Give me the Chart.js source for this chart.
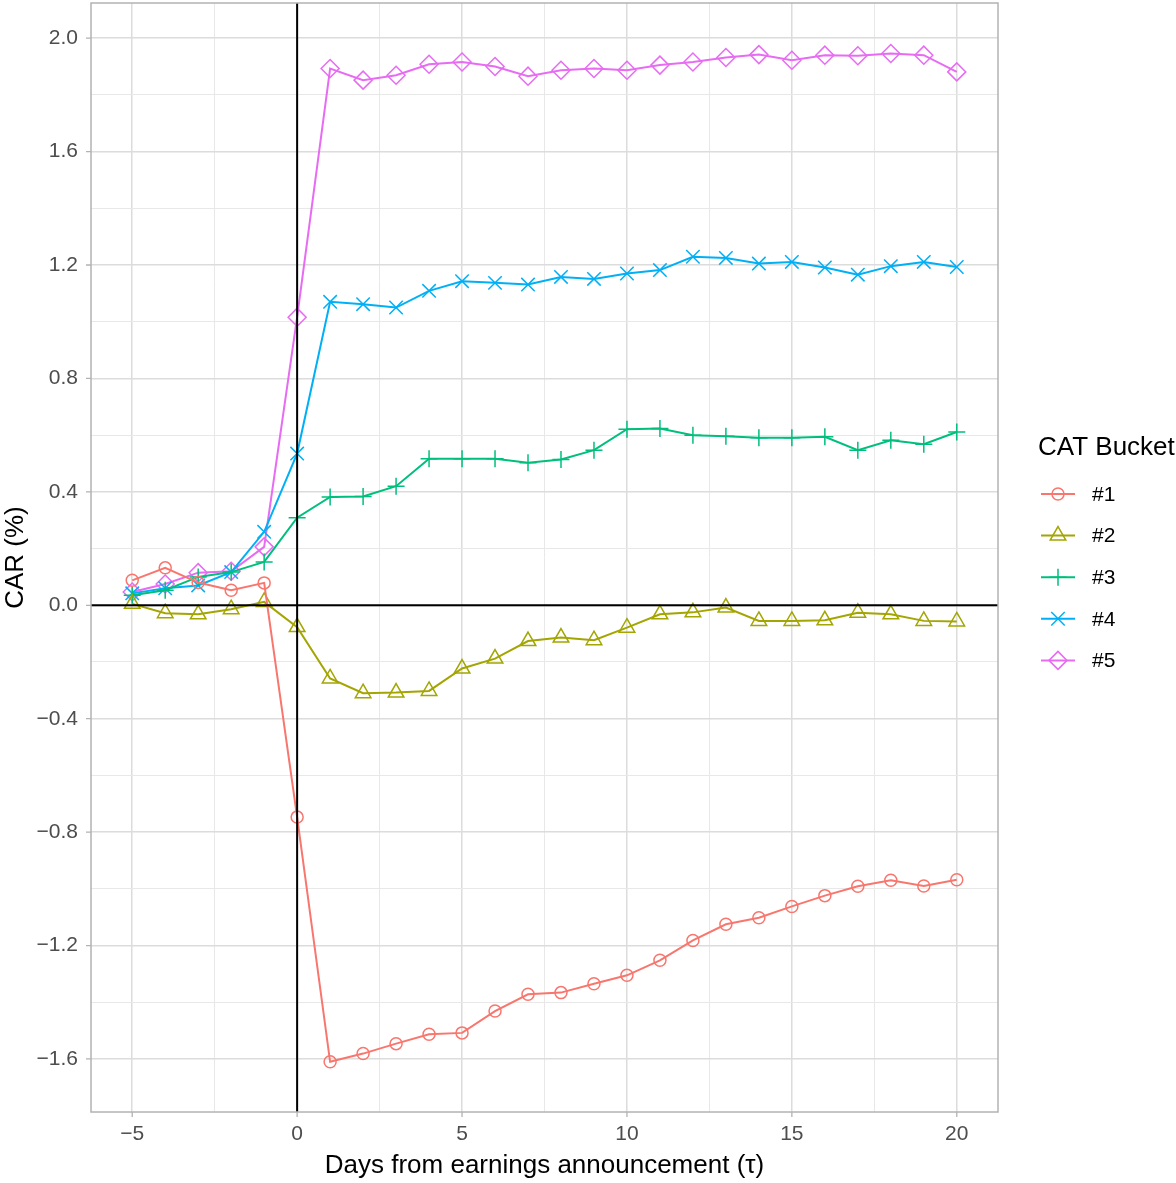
<!DOCTYPE html>
<html>
<head>
  <meta charset="UTF-8" />
  <title>CAR by CAT Bucket</title>
  <style>
    body { margin: 0; background: #fff; }
    #wrap { width: 1176px; height: 1183px; position: relative; }
  </style>
</head>
<body>
  <div id="wrap"><canvas id="carChart"></canvas></div>
  <script src="https://cdn.jsdelivr.net/npm/chart.js"></script>
  <script>
    // days relative to the earnings announcement
    const days = [-5, -4, -3, -2, -1, 0, 1, 2, 3, 4, 5, 6, 7, 8, 9, 10, 11, 12, 13, 14, 15, 16, 17, 18, 19, 20];

    // cumulative abnormal return (%) per CAT bucket
    const bucket1 = [0.088, 0.132, 0.080, 0.053, 0.079, -0.747, -1.610, -1.581, -1.546, -1.513, -1.508, -1.431, -1.372,
                     -1.366, -1.335, -1.305, -1.252, -1.182, -1.125, -1.102, -1.062, -1.024, -0.991, -0.970, -0.990, -0.968];
    const bucket2 = [0.005, -0.028, -0.032, -0.014, 0.012, -0.077, -0.258, -0.310, -0.308, -0.302, -0.223, -0.188, -0.126,
                     -0.114, -0.123, -0.079, -0.032, -0.025, -0.008, -0.055, -0.055, -0.053, -0.026, -0.032, -0.055, -0.057];
    const bucket3 = [0.035, 0.053, 0.100, 0.117, 0.153, 0.309, 0.382, 0.384, 0.420, 0.517, 0.517, 0.517, 0.503,
                     0.514, 0.547, 0.621, 0.623, 0.600, 0.596, 0.591, 0.591, 0.594, 0.547, 0.582, 0.568, 0.611];
    const bucket4 = [0.042, 0.060, 0.070, 0.117, 0.259, 0.535, 1.070, 1.062, 1.050, 1.109, 1.143, 1.137, 1.131,
                     1.158, 1.151, 1.170, 1.182, 1.229, 1.225, 1.205, 1.211, 1.191, 1.166, 1.196, 1.211, 1.193];
    const bucket5 = [0.047, 0.075, 0.115, 0.120, 0.206, 1.016, 1.893, 1.852, 1.869, 1.908, 1.916, 1.900, 1.866,
                     1.887, 1.893, 1.887, 1.905, 1.916, 1.932, 1.942, 1.922, 1.940, 1.938, 1.946, 1.940, 1.881];

    const bucketLabels = ['#1', '#2', '#3', '#4', '#5'];
    const legendTitle = 'CAT Bucket';

    // axis ticks (major ones get labels)
    const xMajor = [-5, 0, 5, 10, 15, 20];
    const xMinor = [-2.5, 2.5, 7.5, 12.5, 17.5];
    const yMajor = [-1.6, -1.2, -0.8, -0.4, 0, 0.4, 0.8, 1.2, 1.6, 2.0];
    const yMinor = [-1.4, -1.0, -0.6, -0.2, 0.2, 0.6, 1.0, 1.4, 1.8];

    const colors = ['#F8766D', '#A3A500', '#00BF7D', '#00B0F6', '#E76BF3'];
    const shapes = ['circle', 'triangle', 'cross', 'crossRot', 'rectRot'];
    const sizes = [6, 9, 8.5, 9.5, 9];
    const FONT = '"Liberation Sans", Arial, Helvetica, sans-serif';

    const allSeries = [bucket1, bucket2, bucket3, bucket4, bucket5];

    const isMajor = (list, v) => list.some(m => Math.abs(m - v) < 1e-6);
    const fmt = (s) => s.replace('-', '\u2212');

    const datasets = allSeries.map((vals, i) => ({
      label: bucketLabels[i],
      data: days.map((d, j) => ({ x: d, y: vals[j] })),
      borderColor: colors[i],
      backgroundColor: 'transparent',
      borderWidth: 2,
      tension: 0,
      pointStyle: shapes[i],
      pointRadius: sizes[i],
      pointBorderWidth: 1.5,
      pointBorderColor: colors[i],
      pointBackgroundColor: 'rgba(0,0,0,0)'
    }));

    // black reference lines at 0, grey panel border and short axis ticks
    const refLines = {
      id: 'refLines',
      afterDatasetsDraw(chart) {
        const { ctx, chartArea: a, scales } = chart;
        const x0 = scales.x.getPixelForValue(0);
        const y0 = scales.y.getPixelForValue(0);
        ctx.save();
        ctx.strokeStyle = '#000';
        ctx.lineWidth = 2;
        ctx.beginPath();
        ctx.moveTo(x0, a.top); ctx.lineTo(x0, a.bottom);
        ctx.moveTo(a.left, y0); ctx.lineTo(a.right, y0);
        ctx.stroke();
        ctx.strokeStyle = '#B3B3B3';
        ctx.lineWidth = 1.5;
        ctx.strokeRect(a.left, a.top, a.right - a.left, a.bottom - a.top);
        ctx.lineWidth = 1.3;
        ctx.beginPath();
        yMajor.forEach(v => {
          const y = scales.y.getPixelForValue(v);
          ctx.moveTo(a.left - 5, y); ctx.lineTo(a.left, y);
        });
        xMajor.forEach(v => {
          const x = scales.x.getPixelForValue(v);
          ctx.moveTo(x, a.bottom); ctx.lineTo(x, a.bottom + 5);
        });
        ctx.stroke();
        ctx.restore();
      }
    };

    // ggplot-style legend: title, line + marker keys
    const bucketLegend = {
      id: 'bucketLegend',
      afterDraw(chart) {
        const { ctx, chartArea: a } = chart;
        const left = a.right + 40;
        ctx.save();
        ctx.fillStyle = '#000';
        ctx.textBaseline = 'middle';
        ctx.textAlign = 'left';
        ctx.font = '26px ' + FONT;
        ctx.fillText(legendTitle, left, 448);
        chart.data.datasets.forEach((ds, i) => {
          const y = 494 + i * 41.6;
          ctx.strokeStyle = ds.borderColor;
          ctx.lineWidth = 2;
          ctx.beginPath();
          ctx.moveTo(left + 3, y); ctx.lineTo(left + 37, y);
          ctx.stroke();
          ctx.lineWidth = ds.pointBorderWidth;
          ctx.fillStyle = 'rgba(0,0,0,0)';
          Chart.helpers.drawPoint(ctx, { pointStyle: ds.pointStyle, radius: ds.pointRadius, borderWidth: ds.pointBorderWidth, rotation: 0 }, left + 20, y);
          ctx.fillStyle = '#000';
          ctx.font = '21px ' + FONT;
          ctx.fillText(ds.label, left + 54, y + 1);
        });
        ctx.restore();
      }
    };

    new Chart(document.getElementById('carChart'), {
      type: 'line',
      data: { datasets: datasets },
      plugins: [refLines, bucketLegend],
      options: {
        responsive: true,
        maintainAspectRatio: false,
        animation: false,
        layout: { autoPadding: false, padding: { left: 0, right: 178, top: 3, bottom: 0 } },
        plugins: { legend: { display: false }, tooltip: { enabled: false } },
        scales: {
          x: {
            type: 'linear',
            min: -6.25,
            max: 21.25,
            afterBuildTicks: (s) => { s.ticks = xMajor.concat(xMinor).sort((p, q) => p - q).map(v => ({ value: v })); },
            afterFit: (s) => { s.height = 71; },
            border: { display: false },
            grid: {
              color: (c) => isMajor(xMajor, c.tick.value) ? '#DCDCDC' : '#E8E8E8',
              lineWidth: (c) => isMajor(xMajor, c.tick.value) ? 1.5 : 1,
              tickColor: 'rgba(0,0,0,0)',
              tickLength: 10
            },
            ticks: {
              padding: 0,
              color: '#4D4D4D',
              font: { family: FONT, size: 21 },
              maxRotation: 0,
              autoSkip: false,
              callback: (v) => isMajor(xMajor, v) ? fmt(String(v)) : ''
            },
            title: {
              display: true,
              text: 'Days from earnings announcement (\u03C4)',
              color: '#000',
              font: { family: FONT, size: 26 },
              padding: { top: 0, bottom: 2 }
            }
          },
          y: {
            type: 'linear',
            min: -1.787,
            max: 2.124,
            afterBuildTicks: (s) => { s.ticks = yMajor.concat(yMinor).sort((p, q) => p - q).map(v => ({ value: v })); },
            afterFit: (s) => { s.width = 91; },
            border: { display: false },
            grid: {
              color: (c) => isMajor(yMajor, c.tick.value) ? '#DCDCDC' : '#E8E8E8',
              lineWidth: (c) => isMajor(yMajor, c.tick.value) ? 1.5 : 1,
              tickColor: 'rgba(0,0,0,0)',
              tickLength: 13
            },
            ticks: {
              padding: 0,
              color: '#4D4D4D',
              font: { family: FONT, size: 21, lineHeight: 0.25 },
              autoSkip: false,
              callback: (v) => isMajor(yMajor, v) ? fmt(v.toFixed(1)) : ''
            },
            title: {
              display: true,
              text: 'CAR (%)',
              color: '#000',
              font: { family: FONT, size: 26 },
              padding: { top: 0, bottom: 0 }
            }
          }
        }
      }
    });
  </script>
</body>
</html>
